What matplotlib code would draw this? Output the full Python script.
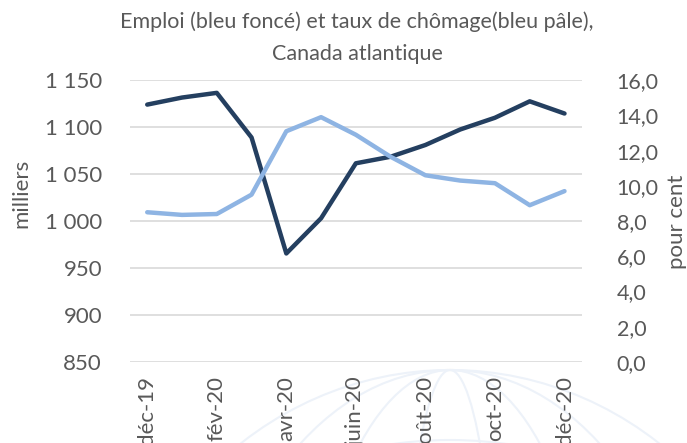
import numpy as np
import matplotlib
matplotlib.use('Agg')
import matplotlib.pyplot as plt
from matplotlib.ticker import FuncFormatter
from matplotlib.patches import Ellipse

# data
mois = ['déc-19', 'janv-20', 'fév-20', 'mars-20', 'avr-20', 'mai-20', 'juin-20',
        'juil-20', 'août-20', 'sept-20', 'oct-20', 'nov-20', 'déc-20']
emploi = [1124, 1131.5, 1136.5, 1089, 965.5, 1003, 1061.5, 1068.5, 1081,
          1097.5, 1110, 1127.5, 1114.5]
chomage = [8.5, 8.35, 8.4, 9.5, 13.1, 13.9, 12.9, 11.65, 10.6, 10.3, 10.15,
           8.9, 9.7]

plt.rcParams['font.family'] = ['Lato', 'DejaVu Sans']
gris = '#595959'
fonce = '#243F60'
pale = '#8EB4E3'

fig = plt.figure(figsize=(6.87, 4.43), dpi=100)

# faint globe watermark behind the axis labels
bg = fig.add_axes([0, 0, 1, 1], zorder=-1)
bg.set_xlim(0, 687)
bg.set_ylim(443, 0)
bg.axis('off')
for w in [700, 500, 300, 100]:
    bg.add_patch(Ellipse((450, 740), w, 740, fill=False, ec='#EDF2F9', lw=1.5))
for h in [600, 440, 280]:
    bg.add_patch(Ellipse((450, 740), 700, h, fill=False, ec='#EDF2F9', lw=1.5))

ax = fig.add_axes([0.189, 0.183, 0.658, 0.636])
ax2 = ax.twinx()

x = np.arange(len(mois))
ax.plot(x, emploi, color=fonce, lw=3.2, solid_capstyle='round', zorder=3)
ax2.plot(x, chomage, color=pale, lw=3.2, solid_capstyle='round', zorder=2)

ax.set_xlim(-0.5, len(mois) - 0.5)
ax.set_ylim(850, 1150)
ax.set_yticks(np.arange(850, 1151, 50))
ax.yaxis.set_major_formatter(FuncFormatter(lambda v, p: '{:,.0f}'.format(v).replace(',', ' ')))
ax2.set_ylim(0, 16)
ax2.set_yticks(np.arange(0, 16.1, 2))
ax2.yaxis.set_major_formatter(FuncFormatter(lambda v, p: '{:.1f}'.format(v).replace('.', ',')))

ax.grid(axis='y', color='#D9D9D9', lw=1.2)
ax.set_axisbelow(True)
for a in (ax, ax2):
    a.patch.set_visible(False)
    for s in a.spines.values():
        s.set_visible(False)
    a.tick_params(length=0, labelsize=16, labelcolor=gris)
ax.tick_params(axis='y', pad=20)
ax2.tick_params(axis='y', pad=25, labelsize=15.5)

ax.set_xticks(x[::2])
ax.set_xticklabels(mois[::2], rotation=90, fontsize=16, color=gris)
ax.tick_params(axis='x', pad=10)

ax.set_ylabel('milliers', fontsize=16, color=gris)
ax.yaxis.label.set_verticalalignment('center')
ax.yaxis.set_label_coords(-0.241, 0.6)
ax2.set_ylabel('pour cent', fontsize=16, color=gris)
ax2.yaxis.label.set_verticalalignment('center')
ax2.yaxis.set_label_coords(1.21, 0.496)

fig.suptitle('Emploi (bleu foncé) et taux de chômage(bleu pâle),\nCanada atlantique',
             x=0.52, y=0.975, fontsize=15.5, color=gris, linespacing=1.75)

plt.savefig('out.png', dpi=100)
